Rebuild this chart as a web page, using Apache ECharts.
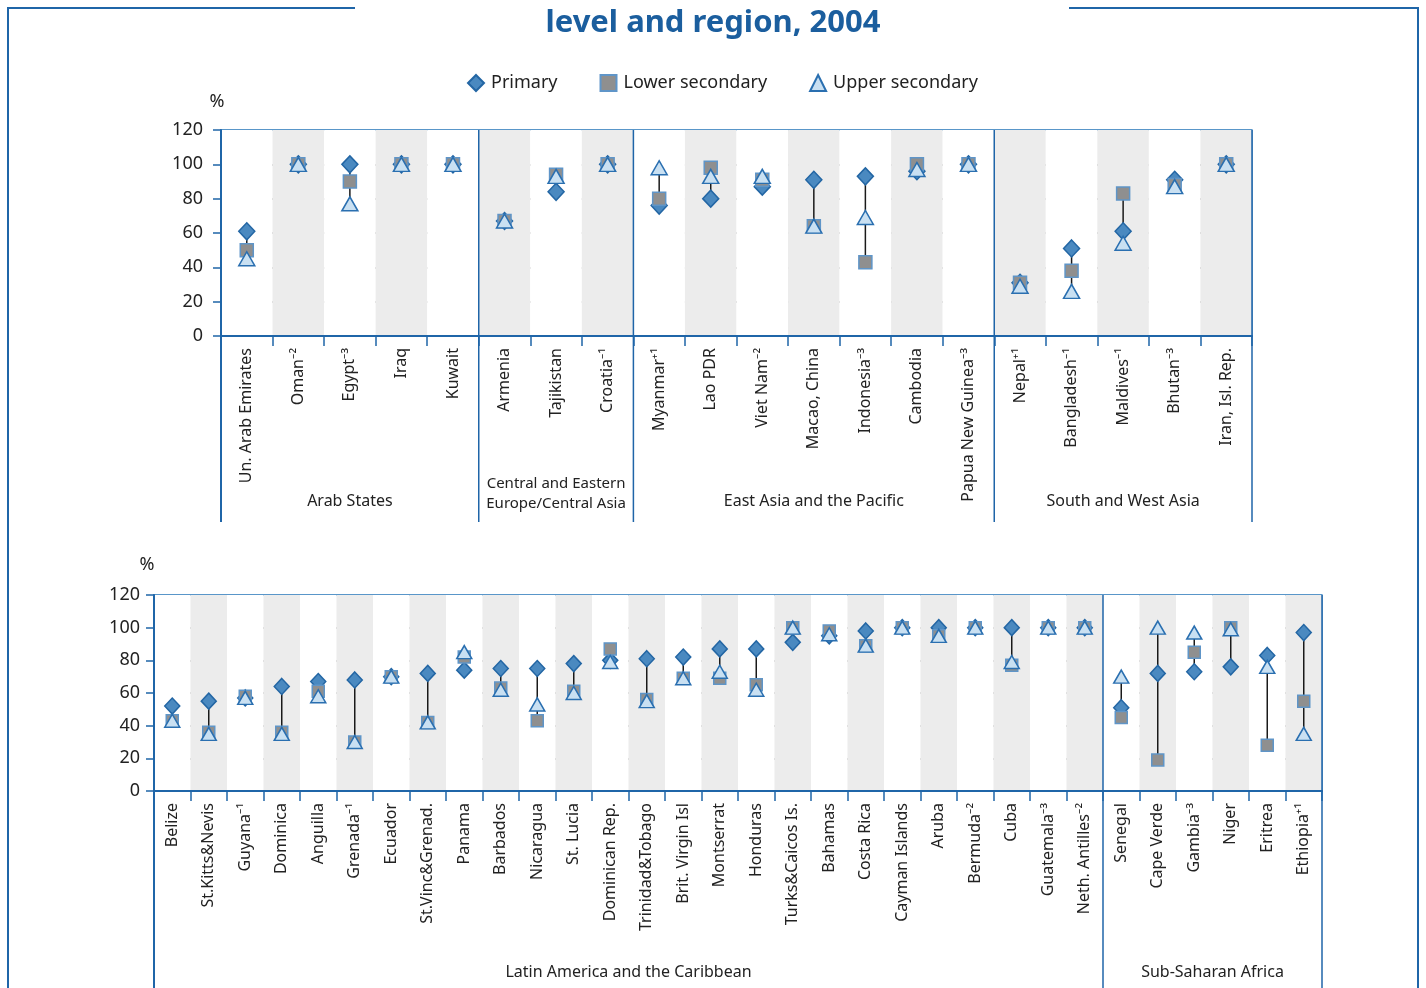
<!DOCTYPE html>
<html>
<head>
<meta charset="utf-8">
<script src="https://cdn.jsdelivr.net/npm/echarts@6/dist/echarts.min.js"></script>
<style>
  html, body { margin: 0; padding: 0; background: #fff; }
  #chart { width: 1426px; height: 988px; }
</style>
</head>
<body>
<div id="chart"></div>
<script>
// Top panel: Arab States, CEE/Central Asia, East Asia & Pacific, South & West Asia
const topCategories = [
  "Un. Arab Emirates", "Oman⁻²", "Egypt⁻³", "Iraq", "Kuwait",
  "Armenia", "Tajikistan", "Croatia⁻¹",
  "Myanmar⁺¹", "Lao PDR", "Viet Nam⁻²", "Macao, China", "Indonesia⁻³", "Cambodia", "Papua New Guinea⁻³",
  "Nepal⁺¹", "Bangladesh⁻¹", "Maldives⁻¹", "Bhutan⁻³", "Iran, Isl. Rep."
];
const topPrimary = [61, 100, 100, 100, 100, 67, 84, 100, 76, 80, 87, 91, 93, 96, 100, 31, 51, 61, 91, 100];
const topLower   = [50, 100, 90, 100, 100, 67, 94, 100, 80, 98, 91, 64, 43, 100, 100, 31, 38, 83, 88, 100];
const topUpper   = [45, 100, 77, 100, 100, 67, 93, 100, 98, 93, 93, 64, 69, 97, 100, 29, 26, 54, 87, 100];
const topRegionNames = ["Arab States", "Central and Eastern\nEurope/Central Asia", "East Asia and the Pacific", "South and West Asia"];
const topRegionSizes = [5, 3, 7, 5];

// Bottom panel: Latin America & Caribbean, Sub-Saharan Africa
const bottomCategories = [
  "Belize", "St.Kitts&Nevis", "Guyana⁻¹", "Dominica", "Anguilla", "Grenada⁻¹", "Ecuador",
  "St.Vinc&Grenad.", "Panama", "Barbados", "Nicaragua", "St. Lucia", "Dominican Rep.",
  "Trinidad&Tobago", "Brit. Virgin Isl", "Montserrat", "Honduras", "Turks&Caicos Is.", "Bahamas",
  "Costa Rica", "Cayman Islands", "Aruba", "Bermuda⁻²", "Cuba", "Guatemala⁻³", "Neth. Antilles⁻²",
  "Senegal", "Cape Verde", "Gambia⁻³", "Niger", "Eritrea", "Ethiopia⁺¹"
];
const bottomPrimary = [52, 55, 57, 64, 67, 68, 70, 72, 74, 75, 75, 78, 80, 81, 82, 87, 87, 91, 95, 98, 100, 100, 100, 100, 100, 100, 51, 72, 73, 76, 83, 97];
const bottomLower   = [43, 36, 58, 36, 61, 30, 70, 42, 82, 63, 43, 61, 87, 56, 69, 69, 65, 100, 98, 89, 100, 95, 100, 77, 100, 100, 45, 19, 85, 100, 28, 55];
const bottomUpper   = [43, 35, 57, 35, 58, 30, 70, 42, 85, 62, 53, 60, 79, 55, 69, 73, 62, 100, 96, 89, 100, 95, 100, 79, 100, 100, 70, 100, 97, 99, 76, 35];
const bottomRegionNames = ["Latin America and the Caribbean", "Sub-Saharan Africa"];
const bottomRegionSizes = [26, 6];

const yTicks = [0, 20, 40, 60, 80, 100, 120];

const FONT = "Noto Sans";
const BLUE = "#1f65a8";
const BORDER = "#4f8fc6";
const GRID_GRAY = "#8c8c8c";

function rangeData(a, b, c) {
  return a.map((v, i) => [i, Math.min(v, b[i], c[i]), Math.max(v, b[i], c[i])]);
}

function regionData(sizes) {
  let start = 0;
  return sizes.map((n) => {
    const item = [start, start + n - 1, 0];
    start += n;
    return item;
  });
}

function renderRange(params, api) {
  const lo = api.coord([api.value(0), api.value(1)]);
  const hi = api.coord([api.value(0), api.value(2)]);
  return {
    type: "line",
    shape: { x1: lo[0], y1: lo[1], x2: hi[0], y2: hi[1] },
    style: { stroke: "#1a1a1a", lineWidth: 1.5 },
  };
}

function makeRegionRender(names, ext, labelOff) {
  return function (params, api) {
    const bw = api.size([1, 0])[0];
    const xs = api.coord([api.value(0), 0])[0] - bw / 2;
    const xe = api.coord([api.value(1), 0])[0] + bw / 2;
    const yb = api.coord([api.value(0), 0])[1];
    const yt = api.coord([api.value(0), 120])[1];
    const name = names[params.dataIndex];
    const twoLines = name.indexOf("\n") >= 0;
    const children = [
      { type: "line", shape: { x1: xe, y1: yt, x2: xe, y2: yb + ext }, style: { stroke: BLUE, lineWidth: 1.5 } },
      {
        type: "text",
        style: {
          text: name,
          x: (xs + xe) / 2,
          y: yb + labelOff - (twoLines ? 7 : 0),
          align: "center",
          verticalAlign: "middle",
          fontSize: twoLines ? 15 : 16,
          lineHeight: 20,
          fontFamily: FONT,
          fill: "#222",
        },
      },
    ];
    if (params.dataIndex === 0) {
      children.push({ type: "line", shape: { x1: xs, y1: yb, x2: xs, y2: yb + ext }, style: { stroke: BLUE, lineWidth: 2 } });
    }
    return { type: "group", children };
  };
}

function xAxisFor(gridIndex, cats, margin) {
  return {
    type: "category",
    gridIndex,
    data: cats,
    boundaryGap: true,
    axisLine: { show: true, lineStyle: { color: BLUE, width: 2 } },
    axisTick: { show: true, length: 10, interval: 0, lineStyle: { color: BLUE, width: 1.5 } },
    axisLabel: { rotate: 90, interval: 0, margin, fontSize: 16, color: "#222", fontFamily: FONT },
    splitLine: { show: false },
    splitArea: { show: true, interval: 0, areaStyle: { color: ["#ffffff", "#ececec"] } },
  };
}

function yAxisFor(gridIndex, margin, nameGap, padRight) {
  return {
    type: "value",
    gridIndex,
    min: yTicks[0],
    max: yTicks[yTicks.length - 1],
    interval: 20,
    name: "%",
    nameLocation: "end",
    nameGap,
    nameTextStyle: { fontSize: 18, color: "#222", fontFamily: FONT, padding: [0, padRight, 0, 0] },
    axisLine: { show: true, lineStyle: { color: BLUE, width: 2 } },
    axisTick: { show: true, length: 8, lineStyle: { color: BLUE, width: 1.5 } },
    axisLabel: { margin, fontSize: 18, color: "#222", fontFamily: FONT },
    splitLine: {
      show: true,
      lineStyle: { color: [GRID_GRAY, GRID_GRAY, GRID_GRAY, GRID_GRAY, GRID_GRAY, GRID_GRAY, BORDER], width: 1.5 },
    },
  };
}

const markerStyles = {
  primary: { symbol: "diamond", color: "#4a89c0", border: "#2366a4" },
  lower: { symbol: "rect", color: "#8f8f8f", border: "#5f95c8" },
  upper: { symbol: "triangle", color: "#c9e0f2", border: "#2a6fb0" },
};

function scatter(name, key, gridIndex, data, size) {
  const m = markerStyles[key];
  return {
    name,
    type: "scatter",
    xAxisIndex: gridIndex,
    yAxisIndex: gridIndex,
    symbol: m.symbol,
    symbolSize: size,
    data,
    z: 4,
    itemStyle: { color: m.color, borderColor: m.border, borderWidth: 1.5, opacity: 1 },
    emphasis: { disabled: true },
  };
}

const chart = echarts.init(document.getElementById("chart"), null, { renderer: "canvas" });

chart.setOption({
  animation: false,
  textStyle: { fontFamily: FONT },
  title: {
    text: "level and region, 2004",
    left: "center",
    top: 3,
    textStyle: { fontSize: 31, fontWeight: "bold", color: "#1b5e9e", fontFamily: FONT },
  },
  legend: {
    top: 69,
    left: 462,
    itemGap: 42,
    itemWidth: 16,
    itemHeight: 16,
    textStyle: { fontSize: 18, color: "#222", fontFamily: FONT, padding: [0, 0, 0, 2] },
    data: [
      { name: "Primary", icon: "diamond" },
      { name: "Lower secondary", icon: "rect" },
      { name: "Upper secondary", icon: "triangle" },
    ],
    selectedMode: false,
  },
  grid: [
    { left: 221, top: 130, width: 1031, height: 206, show: true, borderColor: BORDER, borderWidth: 1.5, backgroundColor: "transparent" },
    { left: 154, top: 595, width: 1168, height: 196, show: true, borderColor: BORDER, borderWidth: 1.5, backgroundColor: "transparent" },
  ],
  xAxis: [xAxisFor(0, topCategories, 12), xAxisFor(1, bottomCategories, 12)],
  yAxis: [yAxisFor(0, 18, 19, 8), yAxisFor(1, 14, 21, 14)],
  graphic: [
    { type: "polyline", shape: { points: [[355, 8], [8, 8], [8, 1000]] }, style: { stroke: BLUE, lineWidth: 2, fill: null } },
    { type: "polyline", shape: { points: [[1069, 8], [1418, 8], [1418, 1000]] }, style: { stroke: BLUE, lineWidth: 2, fill: null } },
  ],
  series: [
    {
      type: "custom", xAxisIndex: 0, yAxisIndex: 0, z: 2, silent: true, clip: false,
      renderItem: makeRegionRender(topRegionNames, 186, 165),
      encode: { x: [0, 1], y: 2 },
      data: regionData(topRegionSizes),
    },
    {
      type: "custom", xAxisIndex: 1, yAxisIndex: 1, z: 2, silent: true, clip: false,
      renderItem: makeRegionRender(bottomRegionNames, 200, 181),
      encode: { x: [0, 1], y: 2 },
      data: regionData(bottomRegionSizes),
    },
    {
      type: "custom", xAxisIndex: 0, yAxisIndex: 0, z: 3, silent: true,
      renderItem: renderRange,
      encode: { x: 0, y: [1, 2] },
      data: rangeData(topPrimary, topLower, topUpper),
    },
    {
      type: "custom", xAxisIndex: 1, yAxisIndex: 1, z: 3, silent: true,
      renderItem: renderRange,
      encode: { x: 0, y: [1, 2] },
      data: rangeData(bottomPrimary, bottomLower, bottomUpper),
    },
    scatter("Primary", "primary", 0, topPrimary, [16, 17]),
    scatter("Lower secondary", "lower", 0, topLower, 13),
    scatter("Upper secondary", "upper", 0, topUpper, [16, 14]),
    scatter("Primary", "primary", 1, bottomPrimary, [15, 16]),
    scatter("Lower secondary", "lower", 1, bottomLower, 12),
    scatter("Upper secondary", "upper", 1, bottomUpper, [15, 13]),
  ],
});
</script>
</body>
</html>
